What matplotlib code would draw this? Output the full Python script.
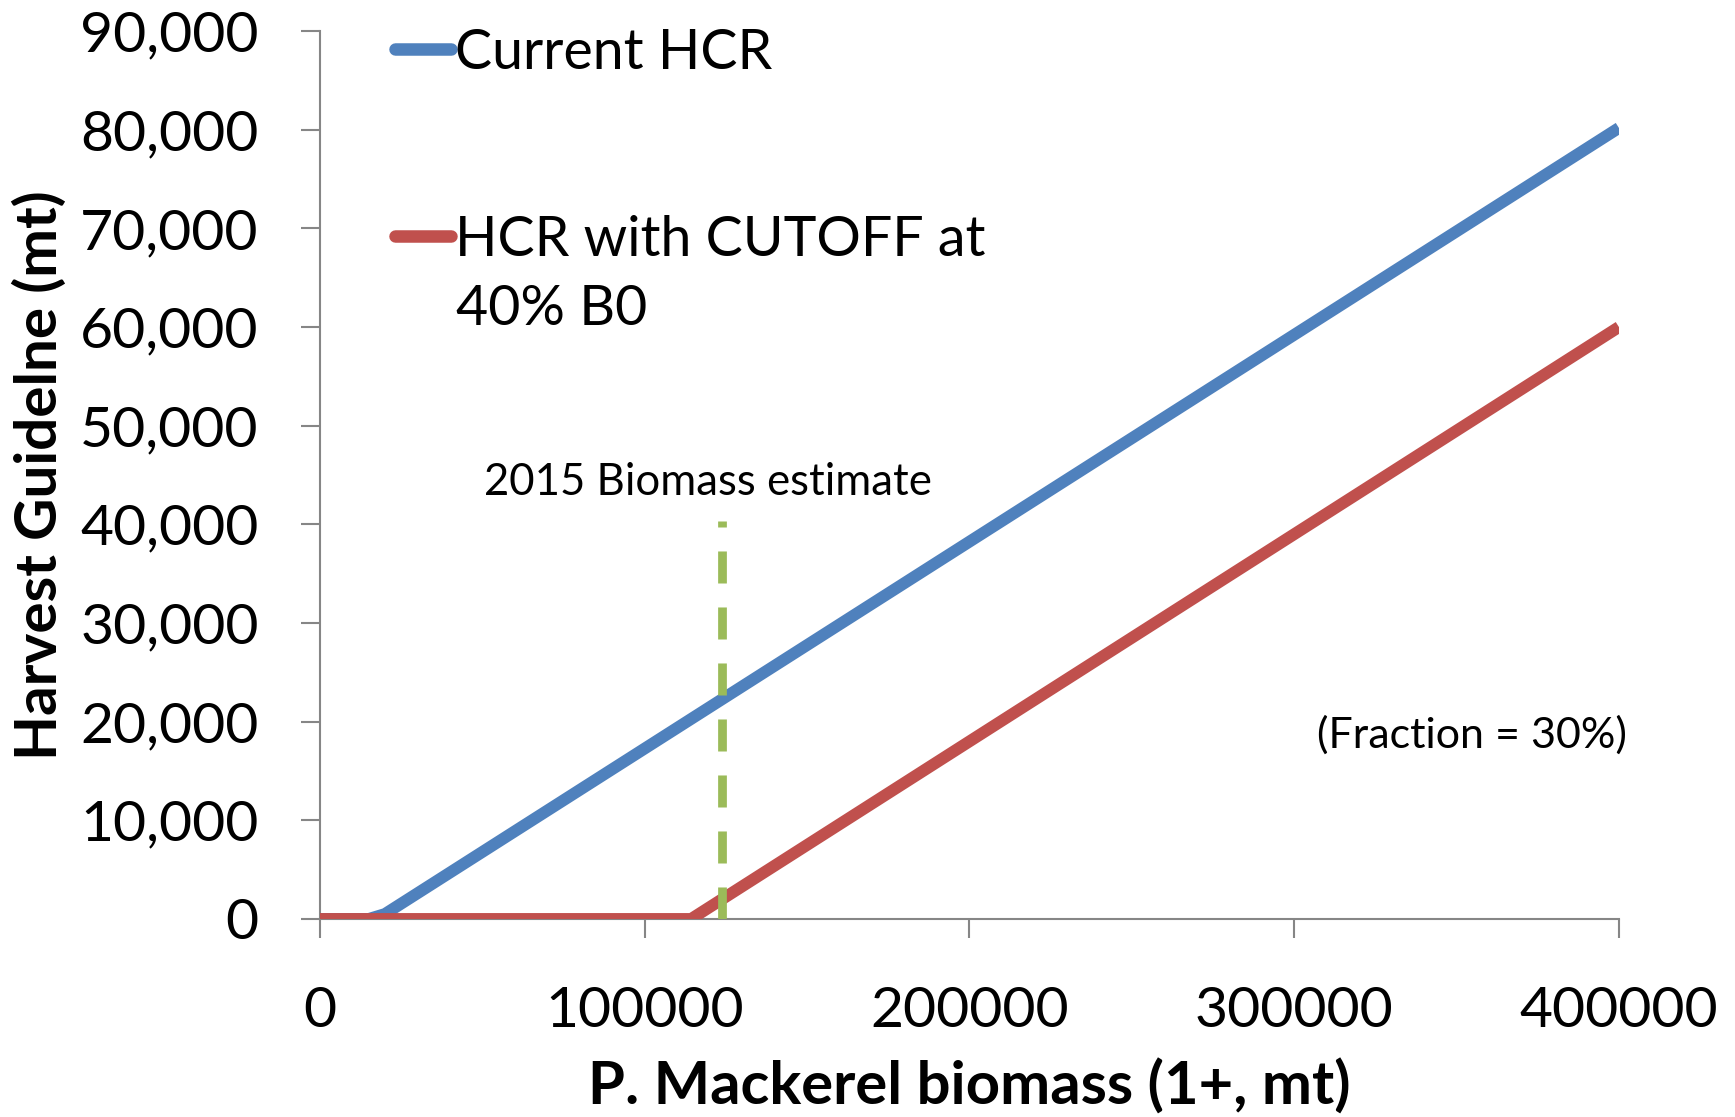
import matplotlib
matplotlib.use("Agg")
import matplotlib.pyplot as plt
from matplotlib.ticker import FuncFormatter

# biomass (x) and harvest guideline (y)
current_x = [0, 15000, 20000, 400000]
current_y = [0, 0, 500, 80180]
cutoff_x = [0, 114300, 400000]
cutoff_y = [0, 0, 60000]

est_biomass = 123700
est_top = 40350

x_ticks = [0, 100000, 200000, 300000, 400000]
y_ticks = [0, 10000, 20000, 30000, 40000, 50000, 60000, 70000, 80000, 90000]

blue = "#4F81BD"
red = "#C0504D"
green = "#9BBB59"
grey = "#868686"

plt.rcParams["font.family"] = ["Lato", "DejaVu Sans"]

fig = plt.figure(figsize=(17.35, 11.17), dpi=100)
ax = fig.add_axes([0.1844, 0.1773, 0.7487, 0.7949])

l1, = ax.plot(current_x, current_y, color=blue, lw=8.5, solid_capstyle="butt",
              solid_joinstyle="round", label="Current HCR", zorder=3)
l2, = ax.plot(cutoff_x, cutoff_y, color=red, lw=8.5, solid_capstyle="butt",
              solid_joinstyle="round", label="HCR with CUTOFF at", zorder=4)
ax.plot([est_biomass, est_biomass], [0, est_top], color=green, lw=6.3,
        linestyle=(0, (3.66, 2.74)), dash_capstyle="butt", zorder=5)

ax.set_xlim(0, 400000)
ax.set_ylim(0, 90000)
ax.set_xticks(x_ticks)
ax.set_yticks(y_ticks)
ax.yaxis.set_major_formatter(FuncFormatter(lambda v, p: f"{int(v):,}"))
ax.xaxis.set_major_formatter(FuncFormatter(lambda v, p: f"{int(v)}"))

for s in ["top", "right"]:
    ax.spines[s].set_visible(False)
for s in ["left", "bottom"]:
    ax.spines[s].set_color(grey)
    ax.spines[s].set_linewidth(1.5)
ax.spines["left"].set_zorder(1)
ax.spines["bottom"].set_zorder(1)

ax.tick_params(axis="both", direction="out", length=14, width=1.5, color=grey,
               labelsize=41, labelcolor="black")
ax.tick_params(axis="y", pad=30)
ax.tick_params(axis="x", pad=34)

ax.set_xlabel("P. Mackerel biomass (1+, mt)", fontsize=43, fontweight="bold",
              labelpad=16)
ax.set_ylabel("Harvest Guidelne (mt)", fontsize=42, fontweight="bold",
              labelpad=10)

ax.text(119600, 44200, "2015 Biomass estimate", fontsize=31.5, ha="center",
        va="center")
ax.text(307000, 18600, "(Fraction = 30%)", fontsize=31, ha="left",
        va="center")

leg = ax.legend(handles=[l1, l2], loc="upper left", bbox_to_anchor=(0.058, 1.004),
                frameon=False, fontsize=40, handlelength=1.0,
                handletextpad=0.08, labelspacing=2.45, borderpad=0,
                borderaxespad=0)
for line in leg.get_lines():
    line.set_solid_capstyle("round")
    line.set_linewidth(9)
ax.text(0.1046, 0.686, "40% B0", transform=ax.transAxes, fontsize=40,
        ha="left", va="center")

fig.savefig("out.png", dpi=100)
